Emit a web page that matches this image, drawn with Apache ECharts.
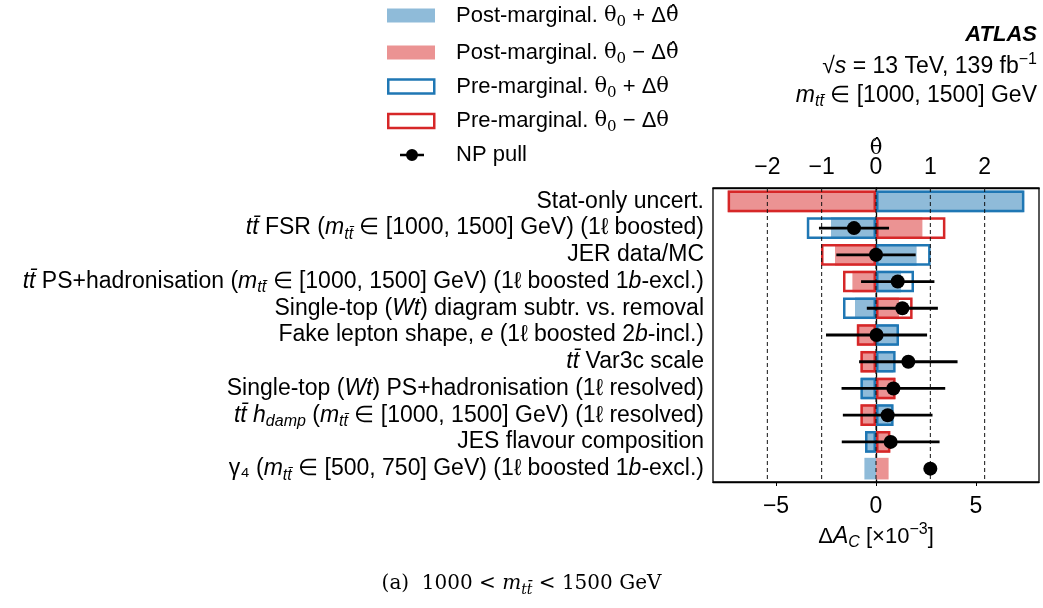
<!DOCTYPE html>
<html><head><meta charset="utf-8">
<script src="https://cdn.jsdelivr.net/npm/echarts@6/dist/echarts.min.js"></script>
<style>html,body{margin:0;padding:0;background:#fff}#c{width:1043px;height:608px}</style>
</head><body><div id="c"></div><script>
// ---- data ----
const categories = [
  'Stat-only uncert.',
  '{i|tt̄} FSR ({i|m}{sub|tt̄} ∈ [1000, 1500] GeV) (1ℓ boosted)',
  'JER data/MC',
  '{i|tt̄} PS+hadronisation ({i|m}{sub|tt̄} ∈ [1000, 1500] GeV) (1ℓ boosted 1{i|b}-excl.)',
  'Single-top ({i|Wt}) diagram subtr. vs. removal',
  'Fake lepton shape, {i|e} (1ℓ boosted 2{i|b}-incl.)',
  '{i|tt̄} Var3c scale',
  'Single-top ({i|Wt}) PS+hadronisation (1ℓ resolved)',
  '{i|tt̄ h}{sub|damp} ({i|m}{sub|tt̄} ∈ [1000, 1500] GeV) (1ℓ resolved)',
  'JES flavour composition',
  'γ₄ ({i|m}{sub|tt̄} ∈ [500, 750] GeV) (1ℓ boosted 1{i|b}-excl.)'
];
const postUp   = [7.37, -2.25, 2.03, 1.25, -1.05, 1.08, 0.87, -0.75, 0.83, -0.55, -0.58];
const postDown = [-7.40, 2.32, -2.05, -1.18, 1.15, -0.93, -0.76, 0.95, -0.76, 0.70, 0.63];
const preUp    = [7.42, -3.46, 2.73, 1.90, -1.65, 1.15, 0.98, -0.78, 0.88, -0.55, null];
const preDown  = [-7.42, 3.47, -2.75, -1.65, 1.83, -0.96, -0.78, 0.98, -0.78, 0.72, null];
const pull     = [null, -0.405, 0.0, 0.40, 0.485, 0.01, 0.595, 0.32, 0.215, 0.27, 1.0];
const pullErr  = [null, 0.645, 0.73, 0.675, 0.654, 0.93, 0.906, 0.954, 0.825, 0.90, 0];
const bottomTicks = [-5, 0, 5];
const topTicks = [-2, -1, 0, 1, 2];

// ---- names ----
const N_PU = 'Post-marginal. {m|θ}{ms|0} + Δ{m|θ̂}';
const N_PD = 'Post-marginal. {m|θ}{ms|0} − Δ{m|θ̂}';
const N_RU = 'Pre-marginal. {m|θ}{ms|0} + Δ{m|θ}';
const N_RD = 'Pre-marginal. {m|θ}{ms|0} − Δ{m|θ}';
const N_NP = 'NP pull';

const F = '"Liberation Sans", Arial, Helvetica, sans-serif';
const S = '"DejaVu Serif", "Liberation Serif", serif';
const FS = 23;
const rich = {
  i:   {fontFamily: F, fontStyle: 'italic', fontSize: FS, color: '#000'},
  sub: {fontFamily: F, fontStyle: 'italic', fontSize: 16, padding: [13, 0, 0, 0], color: '#000'},
  sup: {fontFamily: F, fontSize: 16, padding: [0, 0, 13, 0], color: '#000'},
  m:   {fontFamily: S, fontSize: 21, color: '#000'},
  ms:  {fontFamily: S, fontSize: 15, padding: [13, 0, 0, 0], color: '#000'}
};

const BLUE = '#1f77b4', RED = '#d62728', BLUEF = '#8fbbd9', REDF = '#eb9393';

const errData = [];
const dotData = [];
pull.forEach((p, i) => {
  if (p === null) return;
  dotData.push([p, i]);
  if (pullErr[i] > 0) errData.push([p - pullErr[i], p + pullErr[i], i]);
});
const gridLineData = topTicks.map(v => [v, 0]);

function leg(name, left, top, w, h, padL, icon, itemStyle) {
  return {
    data: [{name: name, icon: icon, itemStyle: itemStyle}],
    left: left, top: top, orient: 'vertical', padding: 0,
    itemWidth: w, itemHeight: h, selectedMode: false,
    textStyle: {fontFamily: F, fontSize: 22, color: '#000', padding: [0, 0, 0, padL], rich: rich}
  };
}

const chart = echarts.init(document.getElementById('c'), null, {renderer: 'canvas'});
const option = {
  animation: false,
  backgroundColor: '#fff',
  grid: {left: 713, right: 4, top: 188, bottom: 126, show: true, borderColor: '#000', borderWidth: 1.3, backgroundColor: 'transparent'},
  legend: [
    leg(N_PU, 387, 4.5, 48, 14, 16, 'rect', {color: BLUEF, borderWidth: 0}),
    leg(N_PD, 387, 41.5, 48, 14, 16, 'rect', {color: REDF, borderWidth: 0}),
    leg(N_RU, 387, 75.5, 46, 14, 17, 'rect', {color: 'rgba(0,0,0,0)', borderColor: BLUE, borderWidth: 2.5}),
    leg(N_RD, 387, 110, 46, 14, 17, 'rect', {color: 'rgba(0,0,0,0)', borderColor: RED, borderWidth: 2.5}),
    leg(N_NP, 400, 144, 24, 12, 27, 'path://M0,8.2 L24,8.2 L24,10.8 L0,10.8 Z M6,9.5 A6,6 0 1,1 18,9.5 A6,6 0 1,1 6,9.5 Z', {color: '#000', borderWidth: 0, opacity: 1})
  ],
  xAxis: [
    {
      type: 'value', position: 'bottom', min: -8.15, max: 8.15,
      axisLine: {show: true, lineStyle: {color: '#000', width: 1.3}},
      axisTick: {show: true, customValues: bottomTicks, length: 4, lineStyle: {color: '#000'}},
      axisLabel: {customValues: bottomTicks, fontFamily: F, fontSize: 23, color: '#000', margin: 13,
        formatter: v => String(v).replace('-', '−')},
      splitLine: {show: false},
      name: 'Δ{i|A}{sub|C} [×10{sup|−3}]', nameLocation: 'middle', nameGap: 40,
      nameTextStyle: {fontFamily: F, fontSize: 22, color: '#000', rich: rich}
    },
    {
      type: 'value', position: 'top', min: -3, max: 3, interval: 1,
      axisLine: {show: true, lineStyle: {color: '#000', width: 1.3}},
      axisTick: {show: false},
      axisLabel: {customValues: topTicks, fontFamily: F, fontSize: 23, color: '#000', margin: 9,
        formatter: v => String(v).replace('-', '−')},
      splitLine: {show: false},
      name: 'θ̂', nameLocation: 'middle', nameGap: 29, nameMoveOverlap: false,
      nameTextStyle: {fontFamily: S, fontSize: 21, color: '#000'}
    }
  ],
  yAxis: {
    type: 'category', inverse: true, data: categories,
    axisLine: {show: true, lineStyle: {color: '#000', width: 1.3}},
    axisTick: {show: true, alignWithLabel: true, interval: 0, length: 4, lineStyle: {color: '#000'}},
    axisLabel: {interval: 0, hideOverlap: false, fontFamily: F, fontSize: FS, color: '#000', margin: 9, rich: rich},
    splitLine: {show: false}
  },
  series: [
    {name: N_PU, type: 'bar', data: postUp, barWidth: '81%', barGap: '-100%', z: 2,
      itemStyle: {color: BLUEF}},
    {name: N_PD, type: 'bar', data: postDown, barWidth: '81%', barGap: '-100%', z: 2,
      itemStyle: {color: REDF}},
    {name: N_RU, type: 'bar', data: preUp, barWidth: '81%', barGap: '-100%', z: 3,
      itemStyle: {color: 'rgba(0,0,0,0)', borderColor: BLUE, borderWidth: 2.5}},
    {name: N_RD, type: 'bar', data: preDown, barWidth: '81%', barGap: '-100%', z: 3,
      itemStyle: {color: 'rgba(0,0,0,0)', borderColor: RED, borderWidth: 2.5}},
    {
      name: 'gridlines', type: 'custom', xAxisIndex: 1, yAxisIndex: 0, z: 4, silent: true,
      data: gridLineData, encode: {x: 0, y: 1},
      renderItem: function (params, api) {
        const p = api.coord([api.value(0), 0]);
        const cs = params.coordSys;
        return {type: 'line', shape: {x1: p[0], y1: cs.y, x2: p[0], y2: cs.y + cs.height},
          style: {stroke: '#111', lineWidth: 1, lineDash: [4, 3]}};
      }
    },
    {
      name: 'errbars', type: 'custom', xAxisIndex: 1, yAxisIndex: 0, z: 5, silent: true,
      data: errData, encode: {x: 0, y: 2},
      renderItem: function (params, api) {
        const a = api.coord([api.value(0), api.value(2)]);
        const b = api.coord([api.value(1), api.value(2)]);
        return {type: 'line', shape: {x1: a[0], y1: a[1], x2: b[0], y2: b[1]},
          style: {stroke: '#000', lineWidth: 2.8}};
      }
    },
    {name: N_NP, type: 'scatter', xAxisIndex: 1, yAxisIndex: 0, z: 6, data: dotData,
      symbol: 'circle', symbolSize: 14, itemStyle: {color: '#000', opacity: 1}}
  ],
  graphic: [
    {type: 'text', right: 6, top: 24, style: {text: 'ATLAS', fontFamily: F, fontWeight: 'bold', fontStyle: 'italic', fontSize: 22, fill: '#000'}},
    {type: 'text', right: 6, top: 52, style: {text: '√{i|s} = 13 TeV, 139 fb{sup|−1}', fontFamily: F, fontSize: 23, fill: '#000', rich: rich}},
    {type: 'text', right: 6, top: 84, style: {text: '{i|m}{sub|tt̄} ∈ [1000, 1500] GeV', fontFamily: F, fontSize: 23, fill: '#000', rich: rich}},
    {type: 'text', left: 'center', top: 574, style: {text: '(a)  1000 < {mi|m}{ms2|tt̄} < 1500 GeV', fontFamily: '"DejaVu Serif", serif', fontSize: 20, fill: '#000',
      rich: {mi: {fontFamily: '"DejaVu Serif", serif', fontStyle: 'italic', fontSize: 20}, ms2: {fontFamily: '"DejaVu Serif", serif', fontStyle: 'italic', fontSize: 14, padding: [12, 0, 0, 0]}}}}
  ]
};
chart.setOption(option);
</script></body></html>
